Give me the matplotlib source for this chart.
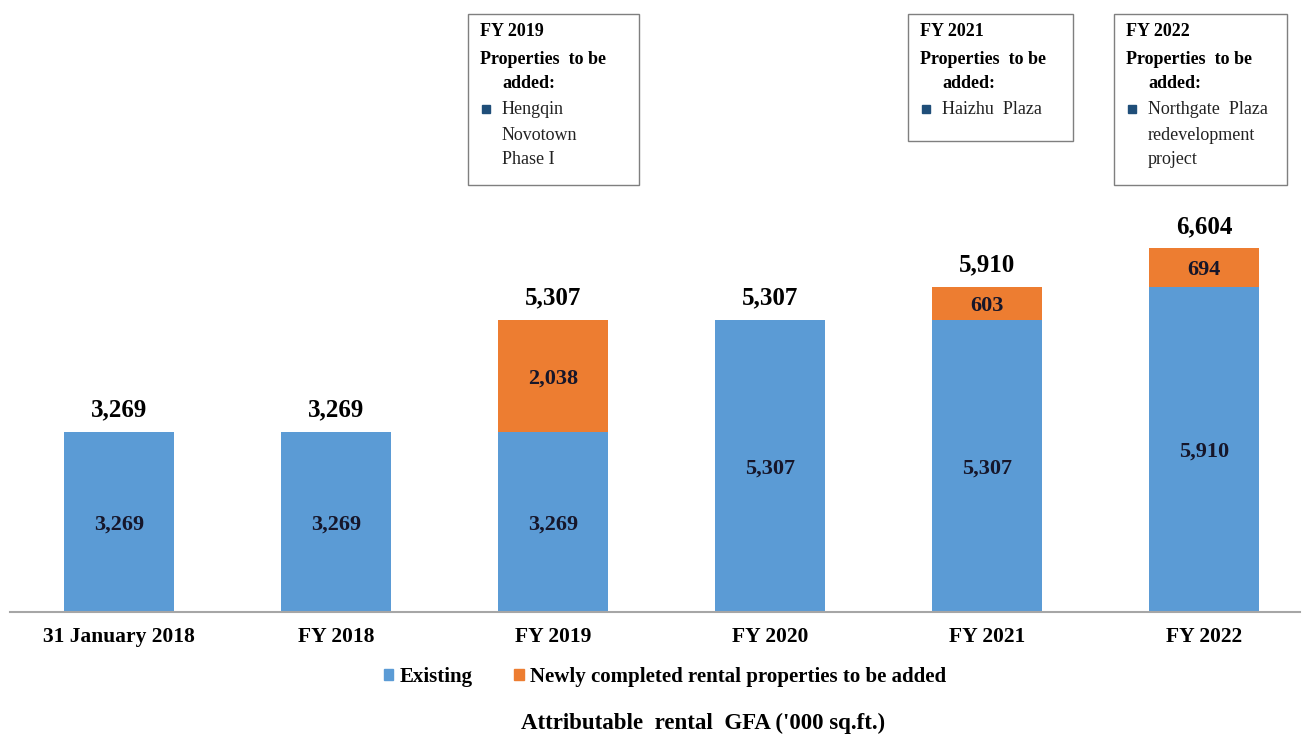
import matplotlib
matplotlib.use("Agg")
import matplotlib.pyplot as plt
from matplotlib.patches import Rectangle, Patch
import numpy as np

categories = ["31 January 2018", "FY 2018", "FY 2019", "FY 2020", "FY 2021", "FY 2022"]
existing = [3269, 3269, 3269, 5307, 5307, 5910]
new_added = [0, 0, 2038, 0, 603, 694]
series_names = ["Existing", "Newly completed rental properties to be added"]

notes = [
    ("FY 2019", ["Hengqin", "Novotown", "Phase I"]),
    ("FY 2021", ["Haizhu  Plaza"]),
    ("FY 2022", ["Northgate  Plaza", "redevelopment", "project"]),
]

BLUE = "#5B9BD5"
ORANGE = "#ED7D31"
NAVY = "#1F4E79"

plt.rcParams["font.family"] = ["Liberation Serif", "DejaVu Serif"]

W, H = 1303, 738
fig = plt.figure(figsize=(W / 100, H / 100), dpi=100)


def fx(px):
    return px / W


def fy(py):
    return 1 - py / H


ax = fig.add_axes([fx(10), 126 / H, 1290 / W, 602 / H])

x = np.arange(len(categories))
existing = np.array(existing)
new_added = np.array(new_added)
totals = existing + new_added

ax.bar(x, existing, width=0.51, color=BLUE, label=series_names[0])
ax.bar(x, new_added, width=0.51, bottom=existing, color=ORANGE, label=series_names[1])

for xi, e, n, t in zip(x, existing, new_added, totals):
    ax.text(xi, e / 2, f"{e:,}", ha="center", va="center_baseline",
            fontsize=16, fontweight="bold", color="#16162a")
    if n > 0:
        ax.text(xi, e + n / 2, f"{n:,}", ha="center", va="center_baseline",
                fontsize=16, fontweight="bold", color="#16162a")
    ax.annotate(f"{t:,}", (xi, t), xytext=(0, 11), textcoords="offset points",
                ha="center", va="baseline", fontsize=18, fontweight="bold")

ax.set_xlim(-0.502, 5.442)
ax.set_ylim(0, 602 / 0.05506)
ax.set_xticks(x, categories, fontsize=15.5, fontweight="bold")
ax.tick_params(axis="x", length=0, pad=11)
ax.set_yticks([])
for s in ["left", "top", "right"]:
    ax.spines[s].set_visible(False)
ax.spines["bottom"].set_color("#A6A6A6")
ax.spines["bottom"].set_linewidth(1.5)

# note boxes above the bars
boxes = [(468, 14, 171, 171), (908, 14, 165, 127), (1114, 14, 173, 171)]
for (x0, y0, bw, bh), (title, items) in zip(boxes, notes):
    fig.add_artist(Rectangle((fx(x0), fy(y0 + bh)), bw / W, bh / H,
                             transform=fig.transFigure, fill=False,
                             edgecolor="#7F7F7F", linewidth=1))
    fig.text(fx(x0 + 12), fy(31), title, fontsize=13, fontweight="bold", va="center")
    fig.text(fx(x0 + 12), fy(59), "Properties  to be", fontsize=13, fontweight="bold", va="center")
    fig.text(fx(x0 + 34), fy(83), "added:", fontsize=13, fontweight="bold", va="center")
    fig.add_artist(Rectangle((fx(x0 + 14), fy(113)), 8 / W, 8 / H,
                             transform=fig.transFigure, color=NAVY))
    for i, line in enumerate(items):
        fig.text(fx(x0 + 34), fy(110 + 25 * i), line, fontsize=13, va="center",
                 color="#222222")

handles = [Patch(color=BLUE), Patch(color=ORANGE)]
fig.legend(handles, series_names, loc="center", bbox_to_anchor=(fx(665), fy(677)),
           ncol=2, frameon=False, prop={"size": 15, "weight": "bold"},
           handlelength=0.45, handleheight=0.45, handletextpad=0.3, columnspacing=2.0)

fig.text(fx(703), fy(723), "Attributable  rental  GFA ('000 sq.ft.)", ha="center",
         va="center", fontsize=16.5, fontweight="bold")

fig.savefig("out.png", dpi=100)
